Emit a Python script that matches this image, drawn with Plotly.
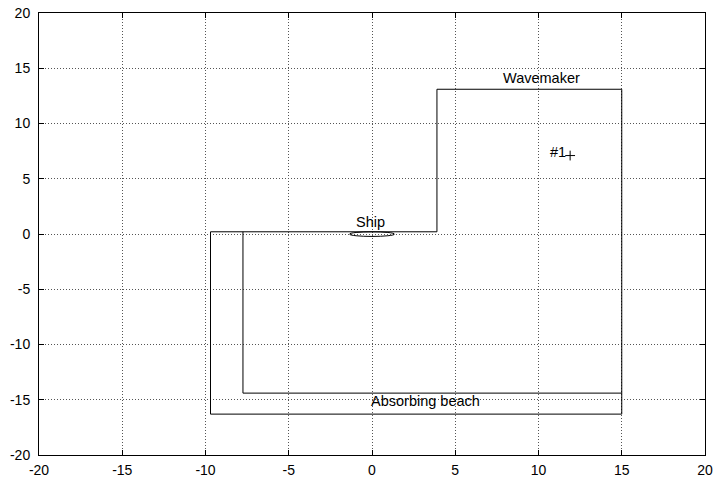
import plotly.graph_objects as go

# Outer computational boundary
outer_x = [-9.7, 3.9, 3.9, 15.0, 15.0, -9.7, -9.7]
outer_y = [0.2, 0.2, 13.1, 13.1, -16.3, -16.3, 0.2]
# Inner line (beach edge)
inner_x = [-7.75, -7.75, 15.0]
inner_y = [0.2, -14.4, -14.4]
# Ship ellipse extents
ship_x = [-1.35, 1.35]
ship_y = [-0.22, 0.2]
# Probe point #1
probe_x = [11.9]
probe_y = [7.1]

labels = ["Ship", "Wavemaker", "Absorbing beach", "#1"]
label_x = [-0.1, 10.2, 3.2, 11.15]
label_y = [1.1, 14.1, -15.1, 7.4]

ticks = [-20, -15, -10, -5, 0, 5, 10, 15, 20]

FONT = "Liberation Sans, Arial"

fig = go.Figure()
fig.add_trace(go.Scatter(x=outer_x, y=outer_y, mode="lines",
                         line=dict(color="black", width=1), showlegend=False))
fig.add_trace(go.Scatter(x=inner_x, y=inner_y, mode="lines",
                         line=dict(color="black", width=1), showlegend=False))
fig.add_trace(go.Scatter(x=probe_x, y=probe_y, mode="markers",
                         marker=dict(symbol="cross-thin", size=7,
                                     line=dict(color="black", width=1)),
                         showlegend=False))
fig.add_shape(type="circle", xref="x", yref="y",
              x0=ship_x[0], x1=ship_x[1], y0=ship_y[0], y1=ship_y[1],
              line=dict(color="black", width=1))

for t, lx, ly in zip(labels, label_x, label_y):
    fig.add_annotation(x=lx, y=ly, text=t, showarrow=False,
                       font=dict(family=FONT, size=14.5, color="black"))

axis_common = dict(
    tickmode="array", tickvals=ticks, ticktext=[str(t) for t in ticks],
    range=[-20, 20], showgrid=True, gridcolor="#555555", griddash="1px,2px",
    gridwidth=1, zeroline=False, showline=True, linecolor="black",
    linewidth=1, mirror="ticks", ticks="inside", ticklen=5,
    tickcolor="black", automargin=False, ticklabeloverflow="allow",
    tickfont=dict(family=FONT, size=14, color="black"),
)
fig.update_xaxes(**axis_common, ticklabelstandoff=2)
fig.update_yaxes(**axis_common, ticklabelstandoff=5)

fig.update_layout(
    width=713, height=477,
    margin=dict(l=39, r=8, t=13, b=22, autoexpand=False),
    plot_bgcolor="white", paper_bgcolor="white",
    showlegend=False,
)
fig.write_html("out.html",
               config={"displayModeBar": False},
               post_script="document.body.style.margin='0';document.body.style.overflow='hidden';")
